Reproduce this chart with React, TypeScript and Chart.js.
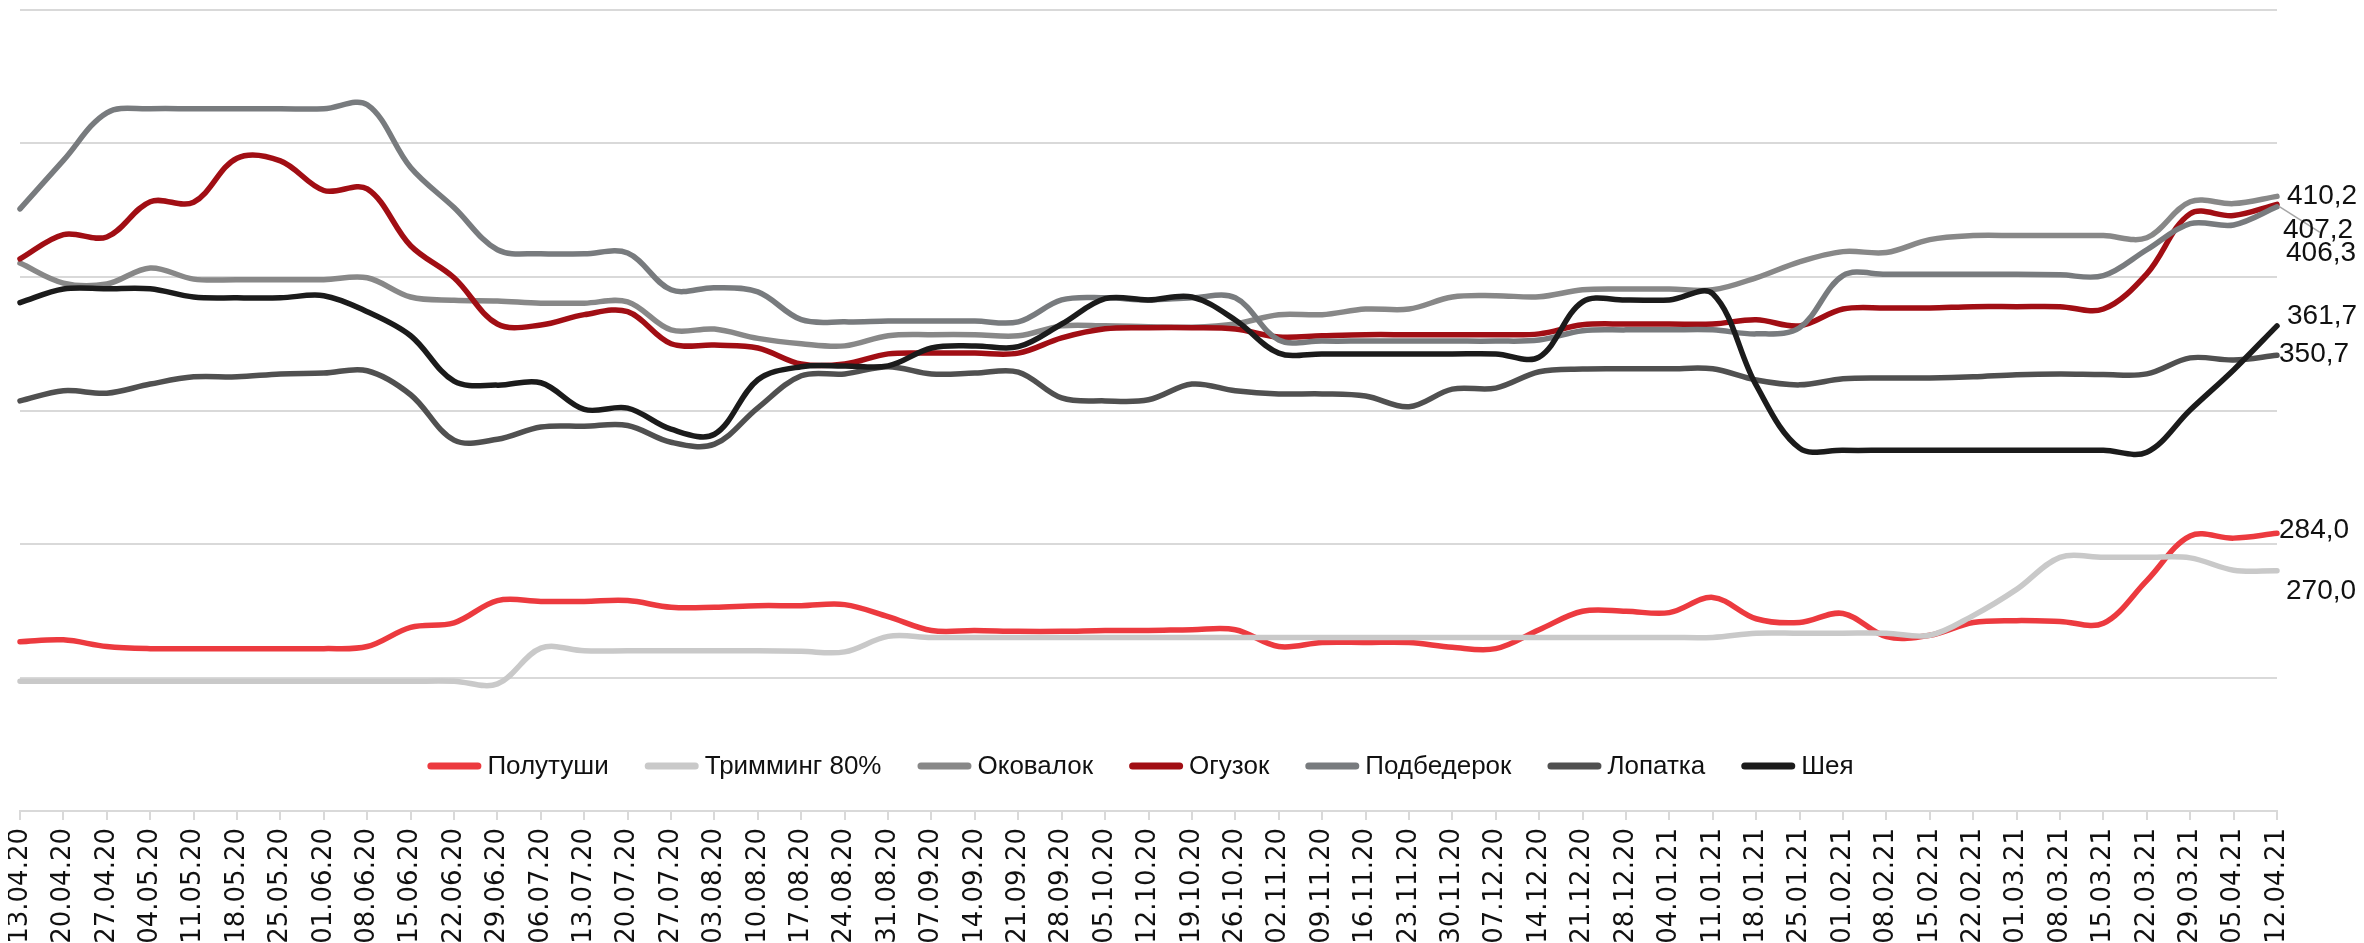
import React, { useEffect, useRef } from "react";
import { Chart, registerables } from "chart.js";

Chart.register(...registerables);

const labels = [
  "13.04.20", "20.04.20", "27.04.20", "04.05.20", "11.05.20", "18.05.20", "25.05.20", "01.06.20", "08.06.20",
  "15.06.20", "22.06.20", "29.06.20", "06.07.20", "13.07.20", "20.07.20", "27.07.20", "03.08.20", "10.08.20",
  "17.08.20", "24.08.20", "31.08.20", "07.09.20", "14.09.20", "21.09.20", "28.09.20", "05.10.20", "12.10.20",
  "19.10.20", "26.10.20", "02.11.20", "09.11.20", "16.11.20", "23.11.20", "30.11.20", "07.12.20", "14.12.20",
  "21.12.20", "28.12.20", "04.01.21", "11.01.21", "18.01.21", "25.01.21", "01.02.21", "08.02.21", "15.02.21",
  "22.02.21", "01.03.21", "08.03.21", "15.03.21", "22.03.21", "29.03.21", "05.04.21", "12.04.21",
];

const seriesNames = ["Полутуши", "Тримминг 80%", "Оковалок", "Огузок", "Подбедерок", "Лопатка", "Шея"];

const polutushi = [
  243.4, 244.1, 241.6, 240.8, 240.8, 240.8, 240.8, 240.8, 241.6, 248.8, 250.5, 258.8, 258.5, 258.5, 258.8,
  256.3, 256.3, 256.9, 256.9, 257.3, 252.8, 247.6, 247.6, 247.3, 247.3, 247.6, 247.6, 247.9, 247.9, 241.6,
  243.1, 243.1, 243.1, 241.3, 240.8, 247.9, 254.8, 254.8, 254.3, 260.0, 252.0, 250.6, 254.0, 245.3, 245.8,
  250.6, 251.3, 251.0, 250.3, 266.3, 283.0, 282.2, 284.0,
];
const trimming = [
  228.6, 228.6, 228.6, 228.6, 228.6, 228.6, 228.6, 228.6, 228.6, 228.6, 228.6, 227.6, 241.0, 240.0, 240.0,
  240.0, 240.0, 240.0, 239.8, 239.6, 245.4, 245.0, 245.0, 245.0, 245.0, 245.0, 245.0, 245.0, 245.0, 245.0,
  245.0, 245.0, 245.0, 245.0, 245.0, 245.0, 245.0, 245.0, 245.0, 245.0, 246.6, 246.6, 246.6, 246.6, 245.8,
  253.2, 263.0, 275.0, 275.0, 275.0, 274.8, 270.2, 270.0,
];
const okovalok = [
  385.2, 377.7, 377.4, 383.4, 379.2, 379.0, 379.0, 379.0, 379.7, 372.5, 371.3, 371.0, 370.2, 370.2, 370.7,
  360.2, 360.5, 357.0, 355.0, 354.2, 358.0, 358.4, 358.4, 358.0, 361.7, 361.7, 361.4, 361.2, 362.4, 365.9,
  365.9, 368.0, 368.0, 372.5, 373.0, 372.6, 375.2, 375.5, 375.5, 375.2, 379.7, 385.7, 389.5, 389.2, 394.0,
  395.5, 395.5, 395.5, 395.5, 394.7, 408.2, 407.5, 410.2,
];
const oguzok = [
  386.8, 395.9, 395.0, 408.2, 408.0, 424.5, 423.5, 412.4, 413.0, 391.7, 379.7, 362.4, 362.0, 365.9, 367.0,
  355.0, 354.5, 353.4, 347.4, 347.4, 351.2, 351.5, 351.5, 351.5, 357.2, 360.6, 361.0, 361.0, 360.5, 357.5,
  358.0, 358.4, 358.4, 358.4, 358.4, 358.7, 362.1, 362.4, 362.4, 362.4, 364.0, 361.7, 368.0, 368.4, 368.4,
  368.9, 368.9, 368.9, 368.0, 381.2, 403.7, 403.0, 407.2,
];
const podbederok = [
  405.5, 423.7, 441.5, 443.0, 443.0, 443.0, 443.0, 443.0, 444.5, 421.0, 406.0, 390.2, 388.7, 388.7, 389.0,
  375.2, 376.0, 374.4, 364.0, 363.2, 363.5, 363.5, 363.5, 363.2, 371.4, 372.2, 371.4, 372.2, 372.2, 356.4,
  356.0, 356.0, 356.0, 356.0, 356.0, 356.4, 359.9, 360.2, 360.2, 360.2, 358.7, 361.0, 380.5, 381.0, 381.0,
  381.0, 381.0, 380.8, 380.5, 390.2, 400.0, 399.5, 406.3,
];
const lopatka = [
  333.6, 337.4, 336.5, 339.9, 342.6, 342.6, 343.7, 344.0, 344.9, 335.9, 318.9, 319.2, 323.8, 324.1, 324.4,
  318.1, 317.4, 331.0, 343.0, 343.7, 346.4, 343.7, 344.0, 344.4, 334.7, 333.6, 334.0, 339.9, 337.4, 336.2,
  336.2, 335.4, 331.4, 338.0, 338.4, 344.5, 345.5, 345.6, 345.6, 345.6, 341.4, 339.6, 341.9, 342.2, 342.2,
  342.6, 343.4, 343.7, 343.5, 343.7, 349.7, 348.9, 350.7,
];
const sheya = [
  370.4, 375.5, 375.6, 375.6, 372.5, 372.2, 372.2, 373.0, 367.0, 358.0, 341.0, 339.5, 340.4, 330.4, 330.9,
  323.0, 321.1, 341.5, 346.4, 346.7, 346.7, 353.4, 354.2, 353.9, 362.4, 371.9, 371.4, 372.5, 363.9, 351.5,
  351.2, 351.2, 351.2, 351.2, 351.2, 350.0, 370.7, 371.4, 371.4, 373.7, 339.5, 315.9, 315.1, 315.1, 315.1,
  315.1, 315.1, 315.1, 315.1, 314.4, 330.2, 345.2, 361.7,
];

const seriesValues = [polutushi, trimming, okovalok, oguzok, podbederok, lopatka, sheya];
const seriesColors = ["#EC3A3F", "#C9C9C9", "#888888", "#A10E14", "#787B7E", "#505050", "#1B1B1B"];

// offsets of the end-value labels relative to the last point (px)
const endLabelOffsets: [number, number][] = [
  [2, -4], [9, 20], [10, -1], [6, 25], [9, 46], [2, -2], [10, -11],
];

const TEXT_COLOR = "#111111";
const GRID_COLOR = "#D9D9D9";

const endLabelsPlugin = {
  id: "endLabels",
  afterDatasetsDraw(chart: any) {
    const ctx = chart.ctx;
    ctx.save();
    ctx.font = "28px 'Liberation Sans'";
    ctx.textAlign = "left";
    ctx.textBaseline = "middle";
    chart.data.datasets.forEach((ds: any, i: number) => {
      const meta = chart.getDatasetMeta(i);
      const pt = meta.data[meta.data.length - 1];
      if (!pt) return;
      const [dx, dy] = endLabelOffsets[i];
      const val = ds.data[ds.data.length - 1];
      const txt = val.toFixed(1).replace(".", ",");
      if (i === 3) {
        ctx.strokeStyle = "#A6A6A6";
        ctx.lineWidth = 1.5;
        ctx.beginPath();
        ctx.moveTo(pt.x + 2, pt.y + 2);
        ctx.lineTo(pt.x + 43, pt.y + 28);
        ctx.stroke();
      }
      ctx.fillStyle = TEXT_COLOR;
      ctx.fillText(txt, pt.x + dx, pt.y + dy + 1);
    });
    ctx.restore();
  },
};

const legendPlugin = {
  id: "insideLegend",
  afterDraw(chart: any) {
    const ctx = chart.ctx;
    const area = chart.chartArea;
    ctx.save();
    ctx.font = "26px 'Liberation Sans'";
    const sw = 54;
    const gapText = 6;
    const gapItem = 36;
    const items = chart.data.datasets.map((ds: any) => ({
      text: ds.label,
      color: ds.borderColor,
      w: ctx.measureText(ds.label).width,
    }));
    const total =
      items.reduce((s: number, it: any) => s + sw + gapText + it.w, 0) + gapItem * (items.length - 1);
    let x = (area.left + area.right) / 2 - total / 2 - 8;
    const y = area.bottom - 45;
    ctx.textAlign = "left";
    ctx.textBaseline = "middle";
    items.forEach((it: any) => {
      ctx.strokeStyle = it.color;
      ctx.lineWidth = 7;
      ctx.lineCap = "round";
      ctx.beginPath();
      ctx.moveTo(x + 3.5, y);
      ctx.lineTo(x + sw - 3.5, y);
      ctx.stroke();
      ctx.fillStyle = TEXT_COLOR;
      ctx.fillText(it.text, x + sw + gapText, y + 1);
      x += sw + gapText + it.w + gapItem;
    });
    ctx.restore();
  },
};

export default function App() {
  const canvasRef = useRef<HTMLCanvasElement | null>(null);

  useEffect(() => {
    document.documentElement.style.overflow = "hidden";
    const canvas = canvasRef.current;
    if (!canvas) return;
    const n = seriesNames.length;
    const chart = new Chart(canvas, {
      type: "line",
      data: {
        labels,
        datasets: seriesNames.map((name, i) => ({
          label: name,
          data: seriesValues[i],
          borderColor: seriesColors[i],
          backgroundColor: seriesColors[i],
          borderWidth: 5.5,
          pointRadius: 0,
          pointHoverRadius: 0,
          tension: 0.35,
          fill: false,
          borderCapStyle: "round",
          borderJoinStyle: "round",
          order: n - i,
          clip: 8,
        })),
      },
      options: {
        responsive: false,
        animation: false,
        devicePixelRatio: 1,
        layout: { padding: { left: 12, right: 79, top: 2, bottom: 0 } },
        plugins: {
          legend: { display: false },
          tooltip: { enabled: false },
        },
        scales: {
          x: {
            type: "category",
            offset: false,
            grid: {
              display: true,
              drawOnChartArea: false,
              drawTicks: true,
              tickLength: 9,
              color: GRID_COLOR,
              lineWidth: 2,
            },
            border: { display: true, color: GRID_COLOR, width: 2 },
            ticks: {
              autoSkip: false,
              maxRotation: 90,
              minRotation: 90,
              padding: 8,
              color: TEXT_COLOR,
              font: { family: "'DejaVu Sans'", size: 26 },
            },
            afterFit: (s: any) => {
              s.height = 132;
              s.paddingLeft = 0;
              s.paddingRight = 0;
            },
          },
          y: {
            min: 180,
            max: 480,
            ticks: { display: false, stepSize: 50 },
            grid: { color: GRID_COLOR, lineWidth: 2, drawTicks: false },
            border: { display: false },
            afterFit: (s: any) => {
              s.width = 0;
            },
          },
        },
      },
      plugins: [endLabelsPlugin, legendPlugin],
    });
    return () => chart.destroy();
  }, []);

  return (
    <div style={{ width: 2348, height: 935 }}>
      <canvas ref={canvasRef} width={2348} height={935} style={{ display: "block" }} />
    </div>
  );
}
